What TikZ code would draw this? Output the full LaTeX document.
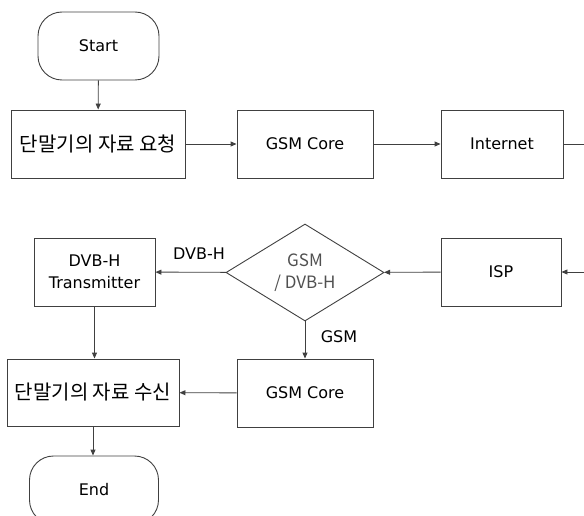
\documentclass[tikz,border=0pt]{standalone}
\usepackage{fontspec}
\setmainfont{DejaVu Sans}
\newfontfamily\kr{Noto Sans CJK KR}
\usetikzlibrary{arrows.meta,shapes.geometric}
\definecolor{ln}{HTML}{404040}
\definecolor{dt}{HTML}{505050}
\tikzset{
  box/.style={draw=ln, line width=0.9pt, minimum height=68pt, inner sep=0pt, font=\fontsize{16}{18}\selectfont, align=center},
  term/.style={box, rounded corners=24pt},
  krbox/.style={box, font=\kr\fontsize{20}{22}\selectfont},
  dec/.style={draw=ln, line width=0.9pt, diamond, aspect=1.63, minimum width=158pt, minimum height=97pt, inner sep=0pt, text=dt, font=\kr\fontsize{17}{22}\selectfont, align=center},
  arr/.style={draw=ln, line width=0.9pt, -{Triangle[length=6pt,width=5pt]}},
  lab/.style={font=\fontsize{16}{18}\selectfont}
}
\begin{document}
\begin{tikzpicture}[x=1pt,y=-1pt]
\useasboundingbox (0,0) rectangle (584,516);
\node[term, minimum width=121pt] (start) at (98.5,46) {Start};
\node[krbox, minimum width=174pt] (req) at (98,144) {단말기의 자료 요청};
\node[box, minimum width=136pt] (gsm1) at (305,144) {GSM Core};
\node[box, minimum width=122pt] (inet) at (502,144) {Internet};
\coordinate (out) at (590,144);
\coordinate (in) at (590,272);
\node[box, minimum width=120pt] (isp) at (501,272) {ISP};
\node[dec] (dec) at (305,272.5) {GSM\\/ DVB-H};
\node[box, minimum width=121pt, font=\fontsize{16}{22}\selectfont] (dvb) at (94.5,272) {DVB-H\\Transmitter};
\node[box, minimum width=136pt] (gsm2) at (305,393) {GSM Core};
\node[krbox, minimum width=172pt, minimum height=67pt] (recv) at (93,392.5) {단말기의 자료 수신};
\node[term, minimum width=129pt] (end) at (94,490) {End};
\node[lab] (l1) at (199,254) {DVB-H};
\node[lab] (l2) at (339,337) {GSM};
\draw[arr] (start) -- (req);
\draw[arr] (req) -- (gsm1);
\draw[arr] (gsm1) -- (inet);
\draw[draw=ln, line width=0.9pt] (inet) -- (out);
\draw[arr] (in) -- (isp);
\draw[arr] (isp) -- (dec);
\draw[arr] (dec) -- (dvb);
\draw[arr] (dec) -- (gsm2);
\draw[arr] (gsm2) -- (recv);
\draw[arr] (dvb.south) -- (dvb.south |- recv.north);
\draw[arr] (recv.south) -- (recv.south |- end.north);
\end{tikzpicture}
\end{document}
